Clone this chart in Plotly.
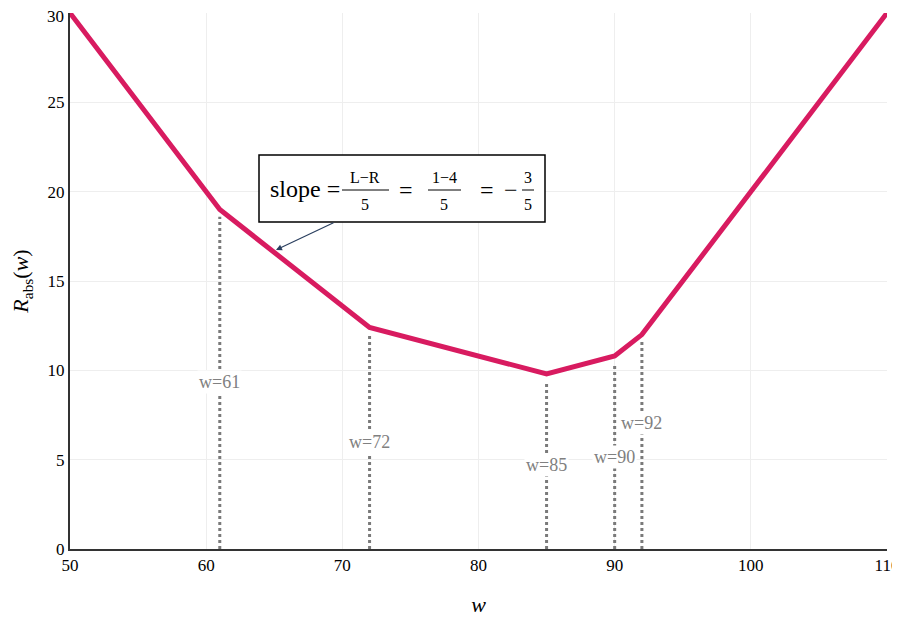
import plotly.graph_objects as go

# ---- data ----
w_knots = [50, 61, 72, 85, 90, 92, 110]
r_abs = [30, 19, 12.4, 9.8, 10.8, 12, 30]
data_points = [61, 72, 85, 90, 92]
marker_tops = [18.6, 12.0, 9.4, 10.4, 11.6]
label_y = [9.35, 6.0, 4.7, 5.15, 7.05]
x_ticks = [50, 60, 70, 80, 90, 100, 110]
y_ticks = [0, 5, 10, 15, 20, 25]
y_top_tick = 30

W, H = 900, 617
OFF = 8  # page body margin
# plot area in screen pixels: left 70, right 887, top 13, bottom 549
ML, MR, MT, MB = 70 - OFF, W - (887 - OFF), 13 - OFF, H - (549 - OFF)
XMIN, XMAX, YMIN, YMAX = 50, 110, 0, 30

def px2x(px):
    return XMIN + (px - 70) / (887 - 70) * (XMAX - XMIN)

def px2y(py):
    return YMIN + (549 - py) / (549 - 13) * (YMAX - YMIN)

SERIF = "Liberation Serif, Times New Roman, serif"
fig = go.Figure()

# dotted verticals
for xv, top in zip(data_points, marker_tops):
    fig.add_trace(go.Scatter(x=[xv, xv], y=[0, top], mode="lines",
                             line=dict(color="#7a7a7a", width=3, dash="dot"),
                             hoverinfo="skip", showlegend=False))

fig.add_trace(go.Scatter(x=w_knots, y=r_abs, mode="lines",
                         line=dict(color="#d81b60", width=5),
                         showlegend=False))

# labels
for xv, ly in zip(data_points, label_y):
    fig.add_annotation(x=xv, y=ly, text=f"w={xv}", showarrow=False,
                       font=dict(family=SERIF, size=18, color="#808080"),
                       bgcolor="white", borderpad=1)

# top y tick label (would be hidden by plotly at the page edge)
fig.add_annotation(xref="paper", x=0, yref="y", y=y_top_tick, text=str(y_top_tick),
                   showarrow=False, xanchor="right", xshift=-4, yshift=-3,
                   font=dict(family=SERIF, size=17, color="black"))

# slope box
fig.add_shape(type="rect", xref="x", yref="y",
              x0=px2x(259), x1=px2x(545), y0=px2y(222), y1=px2y(155),
              line=dict(color="black", width=1.5), fillcolor="white", layer="above")
fig.add_annotation(x=px2x(276), y=px2y(250), ax=px2x(335), ay=px2y(222),
                   xref="x", yref="y", axref="x", ayref="y", text="",
                   showarrow=True, arrowhead=2, arrowsize=1, arrowwidth=1.2,
                   arrowcolor="#2a3f5f")

def txt(px, py, s, size):
    fig.add_annotation(x=px2x(px), y=px2y(py), text=s, showarrow=False,
                       font=dict(family=SERIF, size=size, color="black"))

def bar(x0, x1, py):
    fig.add_shape(type="line", xref="x", yref="y", x0=px2x(x0), x1=px2x(x1),
                  y0=px2y(py), y1=px2y(py), line=dict(color="black", width=1),
                  layer="above")

txt(305, 189, "slope =", 24)
txt(365, 177, "L−R", 16); bar(342, 389, 190); txt(365, 204, "5", 16)
txt(406, 190, "=", 24)
txt(444, 177, "1−4", 16); bar(428, 461, 190); txt(444, 204, "5", 16)
txt(487, 190, "=", 24)
txt(511, 190, "−", 24)
txt(528, 177, "3", 16); bar(522, 534, 190); txt(528, 204, "5", 16)

fig.update_layout(
    width=W, height=H, margin=dict(l=ML, r=MR, t=MT, b=MB, autoexpand=False),
    plot_bgcolor="white", paper_bgcolor="white",
    font=dict(family=SERIF, size=17, color="black"),
    xaxis=dict(range=[XMIN, XMAX], tickvals=x_ticks, showgrid=True,
               gridcolor="#eeeeee", showline=True, linecolor="#333",
               linewidth=2, zeroline=False, ticks="", automargin=False,
               title=dict(text="<i>w</i>", font=dict(size=22), standoff=22),
               tickfont=dict(size=17)),
    yaxis=dict(range=[YMIN, YMAX], tickvals=y_ticks, showgrid=True,
               gridcolor="#eeeeee", showline=True, linecolor="#333",
               linewidth=2, zeroline=False, ticks="", automargin=False,
               title=dict(text="<i>R</i><sub>abs</sub>(<i>w</i>)", font=dict(size=22), standoff=18),
               tickfont=dict(size=17)),
)

fig.write_html("out.html")
